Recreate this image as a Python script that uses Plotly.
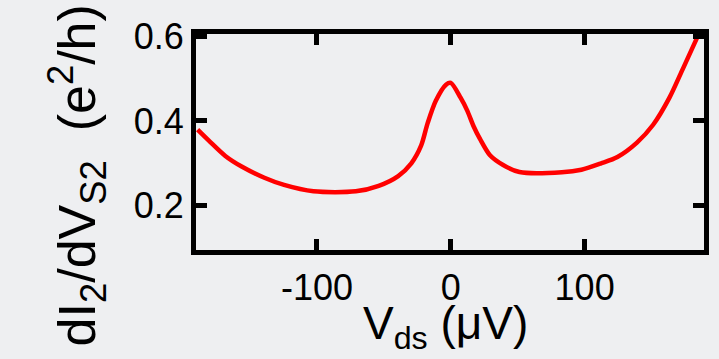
import plotly.graph_objects as go

# Data
vds = [-189.2, -180.6, -168.5, -156.3, -139.3, -124.6, -102.6, -71.0, -53.9, -39.3,
       -29.5, -22.2, -17.3, -11.2, -3.6, 0.0, 7.3, 12.2, 17.1, 21.9, 29.3, 39.1,
       51.3, 83.0, 97.6, 112.3, 124.5, 139.1, 151.2, 163.4, 173.4, 184.4]
didv = [0.3795, 0.353, 0.3175, 0.2925, 0.266, 0.249, 0.234, 0.234, 0.247, 0.270,
        0.300, 0.3416, 0.3948, 0.4477, 0.4857, 0.490, 0.455, 0.425, 0.387, 0.357, 0.319, 0.296,
        0.2795, 0.279, 0.285, 0.300, 0.315, 0.349, 0.391, 0.455, 0.523, 0.599]
x_ticks = [-100, 0, 100]
x_tick_text = ["-100", "0", "100"]
y_ticks = [0.2, 0.4, 0.6]
y_tick_text = ["0.2", "0.4", "0.6"]

BG = "#eeeff1"
FONT = "Liberation Sans, Arial, sans-serif"

fig = go.Figure()
fig.add_trace(go.Scatter(x=vds, y=didv, mode="lines",
                         line=dict(color="#ff0000", width=4.5, shape="spline", smoothing=0.8),
                         hoverinfo="skip"))

axis_common = dict(showline=True, linecolor="black", linewidth=5, mirror="ticks",
                   ticks="inside", ticklen=11, tickwidth=4.5, tickcolor="black",
                   showgrid=False, zeroline=False,
                   tickfont=dict(family=FONT, size=36, color="black"))

fig.update_xaxes(range=[-190.4, 189.2], tickvals=x_ticks, ticktext=x_tick_text,
                 ticklabelstandoff=2, **axis_common)
fig.update_yaxes(range=[0.0955, 0.6052], tickvals=y_ticks, ticktext=y_tick_text,
                 ticklabelstandoff=0, **axis_common)

fig.add_annotation(text="V<sub>ds</sub> (μV)", xref="paper", yref="paper",
                   x=0.491, y=-0.355, xanchor="center", yanchor="middle", showarrow=False,
                   font=dict(family=FONT, size=46, color="black"))
fig.add_annotation(text="dI<sub>2</sub>/dV<sub>S2</sub>  (e<sup>2</sup>/h)", xref="paper", yref="paper",
                   x=-0.2335, y=0.347, xanchor="center", yanchor="middle", textangle=-90,
                   showarrow=False, font=dict(family=FONT, size=52, color="black"))

fig.update_layout(width=719, height=359, margin=dict(l=196, r=10, t=34, b=109),
                  paper_bgcolor=BG, plot_bgcolor=BG, showlegend=False)

fig.write_html("out.html")
